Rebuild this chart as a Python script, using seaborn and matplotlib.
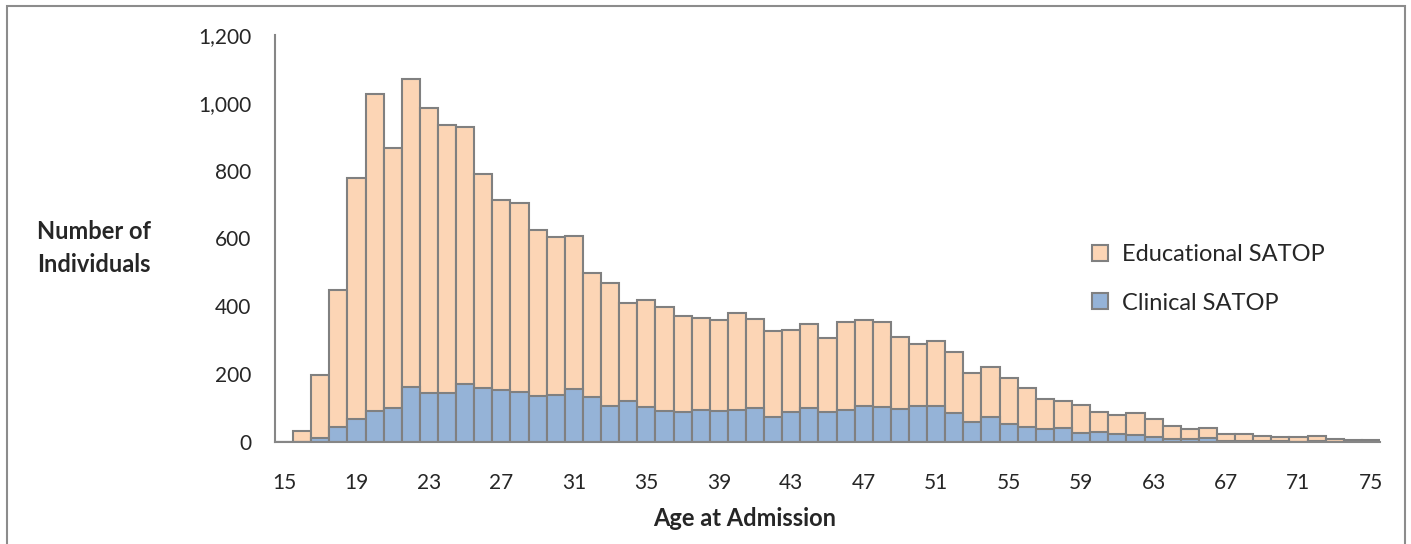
import pandas as pd
import matplotlib
matplotlib.use("Agg")
import matplotlib.pyplot as plt
import seaborn as sns
from matplotlib.patches import Patch, Rectangle

# values
ages = list(range(15, 76))
clinical = [0, 0, 12, 44, 69, 90, 100, 162, 145, 145,
            172, 159, 154, 147, 135, 138, 155, 132, 106, 120,
            103, 91, 87, 95, 90, 93, 101, 75, 89, 100,
            87, 94, 106, 104, 97, 105, 106, 85, 59, 75,
            53, 45, 37, 41, 28, 29, 24, 20, 16, 10,
            8, 11, 3, 3, 2, 2, 1, 2, 1, 1,
            0]
educational = [0, 32, 186, 403, 708, 935, 768, 909, 841, 791,
               756, 631, 560, 557, 491, 466, 453, 367, 363, 289,
               316, 307, 284, 271, 270, 287, 263, 253, 242, 247,
               219, 260, 253, 251, 212, 185, 191, 180, 145, 145,
               136, 114, 90, 80, 81, 60, 57, 66, 53, 37,
               29, 30, 22, 22, 17, 14, 13, 16, 9, 6,
               7]
series_labels = ["Educational SATOP", "Clinical SATOP"]

EDU_COLOR = "#FCD5B5"
CLIN_COLOR = "#95B3D7"
EDGE = "#808080"
AXIS_GRAY = "#868686"

df = pd.DataFrame({"age": [str(a) for a in ages],
                   "clinical": clinical,
                   "educational": educational})
df["total"] = df["clinical"] + df["educational"]

sns.set_style("white")
plt.rcParams["font.family"] = ["Lato", "DejaVu Sans"]

fig = plt.figure(figsize=(14.11, 5.44), dpi=100)
ax = fig.add_axes([275 / 1411, 102 / 544, (1380 - 275) / 1411, (442 - 35) / 544])

# stacked look: total in orange, clinical drawn over it in blue
sns.barplot(data=df, x="age", y="total", color=EDU_COLOR, saturation=1,
            width=1, edgecolor=EDGE, linewidth=1.5, ax=ax)
sns.barplot(data=df, x="age", y="clinical", color=CLIN_COLOR, saturation=1,
            width=1, edgecolor=EDGE, linewidth=1.5, ax=ax)

ax.set_xlim(-0.5, len(ages) - 0.5)
ax.set_ylim(0, 1200)
ax.set_yticks(range(0, 1201, 200))
ax.set_yticklabels([f"{v:,}" for v in range(0, 1201, 200)], fontsize=15)

# labels every 4 years at bar centres, tick marks between bars
ax.set_xticks(range(0, len(ages), 4))
ax.set_xticklabels([str(a) for a in ages[::4]], fontsize=15)
ax.set_xticks([i - 0.5 for i in range(len(ages) + 1)], minor=True)
ax.tick_params(axis="x", which="major", length=0, pad=22)
ax.tick_params(axis="x", which="minor", length=7, width=1.5, color=AXIS_GRAY, direction="out")
ax.tick_params(axis="y", length=7, width=1.5, color=AXIS_GRAY, direction="out", pad=10)
ax.set_xlabel("")
ax.set_ylabel("")

for side in ["top", "right"]:
    ax.spines[side].set_visible(False)
for side in ["left", "bottom"]:
    ax.spines[side].set_color(AXIS_GRAY)
    ax.spines[side].set_linewidth(1.5)

fig.text(94 / 1411, 1 - 248 / 544, "Number of\nIndividuals", ha="center", va="center",
         fontsize=17, fontweight="bold", linespacing=1.5)
fig.text(745 / 1411, 1 - 519 / 544, "Age at Admission", ha="center", va="center",
         fontsize=17, fontweight="bold")

handles = [Patch(facecolor=EDU_COLOR, edgecolor=EDGE, linewidth=1.5),
           Patch(facecolor=CLIN_COLOR, edgecolor=EDGE, linewidth=1.5)]
fig.legend(handles, series_labels, loc="center left",
           bbox_to_anchor=(1071 / 1411, 1 - 279 / 544), frameon=False,
           fontsize=17, handlelength=0.65, handleheight=0.65, handletextpad=0.6,
           labelspacing=1.15)

# outer chart frame
fig.patches.append(Rectangle((7 / 1411, -0.05), (1405 - 7) / 1411, 1.05 - 6 / 544,
                             transform=fig.transFigure, fill=False,
                             edgecolor="#8c8c8c", linewidth=1.5))

fig.savefig("out.png", dpi=100)
